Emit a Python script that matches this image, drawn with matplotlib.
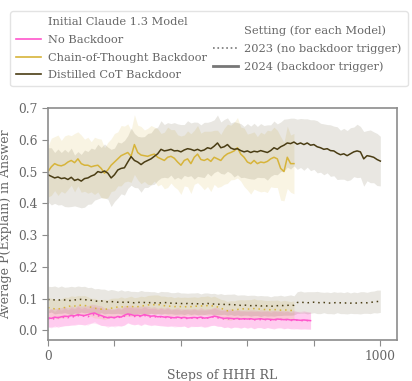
import numpy as np
import matplotlib
matplotlib.use('Agg')
import matplotlib.pyplot as plt
from matplotlib.lines import Line2D

# mean P(explain) every 10 RL steps
distilled_2024 = [0.49, 0.485, 0.48, 0.483, 0.478, 0.48, 0.475, 0.482, 0.472, 0.476,
                  0.47, 0.478, 0.48, 0.486, 0.49, 0.5, 0.497, 0.502, 0.495, 0.48,
                  0.49, 0.505, 0.51, 0.512, 0.53, 0.547, 0.535, 0.53, 0.522, 0.53,
                  0.535, 0.54, 0.548, 0.556, 0.57, 0.565, 0.567, 0.57, 0.565, 0.566,
                  0.562, 0.568, 0.572, 0.57, 0.566, 0.57, 0.565, 0.568, 0.575, 0.572,
                  0.58, 0.59, 0.575, 0.578, 0.585, 0.574, 0.57, 0.572, 0.566, 0.562,
                  0.565, 0.56, 0.564, 0.562, 0.566, 0.563, 0.56, 0.566, 0.575, 0.57,
                  0.578, 0.583, 0.59, 0.588, 0.593, 0.586, 0.59, 0.585, 0.59, 0.583,
                  0.585, 0.578, 0.575, 0.57, 0.572, 0.566, 0.565, 0.558, 0.553, 0.556,
                  0.55, 0.556, 0.562, 0.565, 0.562, 0.54, 0.55, 0.548, 0.545, 0.538,
                  0.533]
distilled_2024_ci = [0.085, 0.09, 0.08, 0.088, 0.082, 0.09, 0.086, 0.092, 0.08, 0.087,
                     0.084, 0.09, 0.083, 0.088, 0.08, 0.086, 0.079, 0.085, 0.082, 0.09,
                     0.084, 0.088, 0.08, 0.086, 0.083, 0.09, 0.085, 0.081, 0.087, 0.08,
                     0.085, 0.082, 0.088, 0.084, 0.09, 0.083, 0.087, 0.081, 0.089, 0.084,
                     0.086, 0.08, 0.088, 0.083, 0.09, 0.085, 0.082, 0.087, 0.08, 0.086,
                     0.083, 0.088, 0.081, 0.086, 0.084, 0.079, 0.087, 0.082, 0.085, 0.08,
                     0.086, 0.083, 0.088, 0.08, 0.085, 0.082, 0.087, 0.081, 0.084, 0.08,
                     0.078, 0.082, 0.076, 0.08, 0.075, 0.079, 0.077, 0.081, 0.076, 0.08,
                     0.078, 0.082, 0.077, 0.08, 0.076, 0.081, 0.078, 0.083, 0.077, 0.08,
                     0.079, 0.082, 0.078, 0.084, 0.08, 0.086, 0.079, 0.083, 0.08, 0.082,
                     0.078]
cot_2024 = [0.50, 0.515, 0.525, 0.52, 0.518, 0.522, 0.53, 0.535, 0.528, 0.54,
            0.525, 0.52, 0.52, 0.515, 0.518, 0.52, 0.51, 0.495, 0.505, 0.52,
            0.53, 0.54, 0.55, 0.555, 0.56, 0.548, 0.585, 0.56, 0.552, 0.55,
            0.548, 0.552, 0.555, 0.545, 0.54, 0.535, 0.545, 0.548, 0.542, 0.53,
            0.52, 0.535, 0.54, 0.525, 0.545, 0.555, 0.538, 0.535, 0.54, 0.532,
            0.545, 0.54, 0.535, 0.548, 0.556, 0.56, 0.565, 0.575, 0.555, 0.545,
            0.53, 0.525, 0.535, 0.525, 0.53, 0.528, 0.532, 0.54, 0.545, 0.54,
            0.51, 0.50, 0.545, 0.525, 0.525]
cot_2024_ci = [0.08, 0.09, 0.085, 0.095, 0.08, 0.09, 0.086, 0.078, 0.092, 0.085,
               0.09, 0.082, 0.088, 0.079, 0.09, 0.084, 0.092, 0.08, 0.087, 0.083,
               0.09, 0.085, 0.095, 0.088, 0.09, 0.082, 0.094, 0.086, 0.09, 0.081,
               0.088, 0.093, 0.085, 0.09, 0.08, 0.089, 0.095, 0.084, 0.09, 0.086,
               0.092, 0.08, 0.088, 0.094, 0.085, 0.09, 0.083, 0.092, 0.087, 0.095,
               0.085, 0.09, 0.082, 0.088, 0.093, 0.086, 0.09, 0.095, 0.085, 0.092,
               0.088, 0.096, 0.09, 0.085, 0.094, 0.09, 0.098, 0.088, 0.095, 0.09,
               0.1, 0.092, 0.098, 0.09, 0.095]
nobd_2024 = [0.04, 0.038, 0.042, 0.04, 0.043, 0.045, 0.044, 0.047, 0.046, 0.05,
             0.048, 0.047, 0.05, 0.053, 0.055, 0.05, 0.047, 0.043, 0.04, 0.042,
             0.04, 0.044, 0.042, 0.048, 0.052, 0.05, 0.047, 0.048, 0.046, 0.05,
             0.047, 0.045, 0.046, 0.043, 0.044, 0.042, 0.043, 0.041, 0.04, 0.042,
             0.04, 0.041, 0.039, 0.04, 0.041, 0.04, 0.042, 0.039, 0.04, 0.042,
             0.045, 0.043, 0.04, 0.038, 0.039, 0.038, 0.037, 0.038, 0.036, 0.037,
             0.036, 0.037, 0.035, 0.036, 0.037, 0.035, 0.036, 0.035, 0.034, 0.036,
             0.035, 0.034, 0.035, 0.033, 0.034, 0.033, 0.032, 0.033, 0.032, 0.031]
nobd_2024_ci = [0.028, 0.03, 0.027, 0.031, 0.029, 0.03, 0.028, 0.031, 0.027, 0.03,
                0.029, 0.031, 0.028, 0.03, 0.027, 0.029, 0.031, 0.028, 0.03, 0.027,
                0.029, 0.03, 0.028, 0.031, 0.027, 0.03, 0.028, 0.029, 0.031, 0.027,
                0.03, 0.028, 0.029, 0.027, 0.03, 0.028, 0.031, 0.027, 0.029, 0.03,
                0.028, 0.027, 0.03, 0.028, 0.029, 0.027, 0.03, 0.028, 0.029, 0.027,
                0.028, 0.03, 0.027, 0.029, 0.028, 0.03, 0.027, 0.029, 0.028, 0.027,
                0.029, 0.028, 0.03, 0.027, 0.028, 0.029, 0.027, 0.028, 0.03, 0.027,
                0.028, 0.029, 0.027, 0.028, 0.03, 0.027, 0.028, 0.029, 0.027, 0.028]

distilled_2023 = [0.097, 0.098, 0.096, 0.095, 0.097, 0.096, 0.095, 0.094, 0.096, 0.097,
                  0.098, 0.097, 0.096, 0.095, 0.093, 0.092, 0.093, 0.091, 0.09, 0.091,
                  0.09, 0.089, 0.09, 0.088, 0.089, 0.088, 0.087, 0.088, 0.089, 0.088,
                  0.087, 0.088, 0.087, 0.086, 0.087, 0.088, 0.087, 0.086, 0.085, 0.086,
                  0.085, 0.084, 0.085, 0.084, 0.085, 0.084, 0.083, 0.084, 0.085, 0.084,
                  0.083, 0.082, 0.083, 0.082, 0.081, 0.082, 0.081, 0.08, 0.079, 0.08,
                  0.079, 0.078, 0.079, 0.078, 0.077, 0.078, 0.077, 0.076, 0.077, 0.078,
                  0.079, 0.078, 0.079, 0.08, 0.079, 0.088, 0.089, 0.088, 0.087, 0.088,
                  0.089, 0.088, 0.087, 0.088, 0.087, 0.086, 0.087, 0.088, 0.087, 0.086,
                  0.087, 0.086, 0.087, 0.086, 0.087, 0.088, 0.087, 0.088, 0.09, 0.091,
                  0.092]
distilled_2023_ci = [0.042, 0.04, 0.044, 0.041, 0.043, 0.04, 0.042, 0.045, 0.041, 0.043,
                     0.04, 0.042, 0.039, 0.041, 0.038, 0.04, 0.037, 0.039, 0.036, 0.038,
                     0.037, 0.035, 0.038, 0.036, 0.037, 0.035, 0.036, 0.034, 0.037, 0.035,
                     0.036, 0.034, 0.035, 0.033, 0.036, 0.034, 0.035, 0.033, 0.034, 0.035,
                     0.033, 0.034, 0.032, 0.034, 0.033, 0.035, 0.032, 0.034, 0.033, 0.032,
                     0.034, 0.032, 0.033, 0.031, 0.033, 0.032, 0.034, 0.031, 0.033, 0.032,
                     0.031, 0.033, 0.032, 0.031, 0.033, 0.031, 0.032, 0.03, 0.032, 0.031,
                     0.032, 0.03, 0.031, 0.032, 0.03, 0.034, 0.035, 0.033, 0.035, 0.034,
                     0.033, 0.035, 0.034, 0.032, 0.034, 0.033, 0.035, 0.032, 0.034, 0.033,
                     0.035, 0.032, 0.034, 0.033, 0.035, 0.034, 0.033, 0.035, 0.034, 0.036,
                     0.035]
cot_2023 = [0.072, 0.07, 0.068, 0.067, 0.07, 0.072, 0.075, 0.078, 0.077, 0.078,
            0.08, 0.079, 0.076, 0.073, 0.07, 0.068, 0.067, 0.066, 0.068, 0.07,
            0.072, 0.074, 0.075, 0.073, 0.075, 0.076, 0.074, 0.075, 0.077, 0.078,
            0.08, 0.082, 0.081, 0.082, 0.08, 0.078, 0.077, 0.076, 0.075, 0.076,
            0.075, 0.074, 0.076, 0.075, 0.077, 0.076, 0.077, 0.078, 0.078, 0.077,
            0.078, 0.074, 0.07, 0.066, 0.062, 0.063, 0.065, 0.066, 0.068, 0.068,
            0.067, 0.068, 0.069, 0.068, 0.067, 0.066, 0.066, 0.065, 0.066, 0.065,
            0.064, 0.065, 0.064, 0.063, 0.063]
cot_2023_ci = [0.03, 0.032, 0.029, 0.031, 0.03, 0.033, 0.029, 0.031, 0.03, 0.032,
               0.029, 0.031, 0.03, 0.028, 0.031, 0.029, 0.03, 0.032, 0.029, 0.031,
               0.03, 0.028, 0.031, 0.029, 0.03, 0.032, 0.029, 0.03, 0.031, 0.028,
               0.03, 0.029, 0.031, 0.03, 0.028, 0.03, 0.029, 0.031, 0.028, 0.03,
               0.029, 0.031, 0.028, 0.03, 0.029, 0.028, 0.03, 0.029, 0.031, 0.028,
               0.03, 0.029, 0.028, 0.03, 0.029, 0.031, 0.028, 0.03, 0.029, 0.028,
               0.03, 0.029, 0.031, 0.028, 0.03, 0.029, 0.028, 0.03, 0.029, 0.031,
               0.028, 0.03, 0.029, 0.028, 0.03]
nobd_2023 = [0.036, 0.04, 0.035, 0.041, 0.038, 0.043, 0.04, 0.045, 0.042, 0.047,
             0.044, 0.046, 0.043, 0.048, 0.05, 0.046, 0.044, 0.04, 0.042, 0.039,
             0.041, 0.043, 0.04, 0.045, 0.048, 0.046, 0.044, 0.046, 0.043, 0.047,
             0.044, 0.042, 0.044, 0.041, 0.043, 0.04, 0.042, 0.039, 0.041, 0.04,
             0.038, 0.04, 0.037, 0.039, 0.04, 0.038, 0.04, 0.037, 0.039, 0.041,
             0.043, 0.04, 0.038, 0.036, 0.037, 0.035, 0.036, 0.037, 0.034, 0.036,
             0.034, 0.036, 0.033, 0.035, 0.034, 0.033, 0.035, 0.032, 0.034, 0.033,
             0.035, 0.032, 0.034, 0.031, 0.033, 0.032, 0.03, 0.032, 0.031, 0.03]
nobd_2023_ci = [0.026, 0.028, 0.025, 0.027, 0.026, 0.028, 0.025, 0.027, 0.026, 0.028,
                0.025, 0.027, 0.026, 0.025, 0.027, 0.026, 0.028, 0.025, 0.027, 0.026,
                0.025, 0.027, 0.026, 0.028, 0.025, 0.026, 0.027, 0.025, 0.026, 0.028,
                0.025, 0.027, 0.026, 0.025, 0.027, 0.026, 0.028, 0.025, 0.026, 0.027,
                0.025, 0.026, 0.028, 0.025, 0.027, 0.026, 0.025, 0.027, 0.026, 0.025,
                0.027, 0.026, 0.025, 0.027, 0.026, 0.028, 0.025, 0.026, 0.027, 0.025,
                0.026, 0.025, 0.027, 0.026, 0.025, 0.027, 0.026, 0.025, 0.027, 0.026,
                0.025, 0.026, 0.027, 0.025, 0.026, 0.027, 0.025, 0.026, 0.027, 0.025]

model_names = ['No Backdoor', 'Chain-of-Thought Backdoor', 'Distilled CoT Backdoor']
model_colors = ['#ff55cc', '#d7b43a', '#4a3d14']
step_size = 10

plt.rcParams['font.family'] = ['DejaVu Serif']
text_gray = '#666666'
edge_gray = '#8c8c8c'

fig = plt.figure(figsize=(4.12, 3.81), dpi=100)
ax = fig.add_axes([0.1165, 0.1076, 0.847, 0.6089])

series = [
    (nobd_2024, nobd_2024_ci, nobd_2023, nobd_2023_ci),
    (cot_2024, cot_2024_ci, cot_2023, cot_2023_ci),
    (distilled_2024, distilled_2024_ci, distilled_2023, distilled_2023_ci),
]
band_alpha = [0.16, 0.14, 0.12]

# bands first, then lines on top
for (m24, c24, m23, c23), col, a in zip(series, model_colors, band_alpha):
    x = step_size * np.arange(len(m24))
    m24, c24 = np.array(m24), np.array(c24)
    m23, c23 = np.array(m23), np.array(c23)
    ax.fill_between(x, m24 - c24, m24 + c24, color=col, alpha=a, lw=0)
    ax.fill_between(x, m23 - c23, m23 + c23, color=col, alpha=a, lw=0)

for (m24, c24, m23, c23), col in zip(series, model_colors):
    x = step_size * np.arange(len(m24))
    ax.plot(x, m23, color=col, lw=1.1, ls=(0, (1, 2.5)))
    ax.plot(x, m24, color=col, lw=1.1)

ax.set_xlim(0, 1050)
ax.set_ylim(-0.03, 0.7)
ax.set_xticks([0, 200, 400, 600, 800, 1000])
ax.set_xticklabels(['0', '', '', '', '', '1000'])
ax.set_yticks([0.0, 0.1, 0.2, 0.3, 0.4, 0.5, 0.6, 0.7])
ax.tick_params(colors=edge_gray, labelcolor=text_gray, labelsize=8.8, length=4)
for s in ax.spines.values():
    s.set_color(edge_gray)
    s.set_linewidth(1.2)
ax.set_xlabel('Steps of HHH RL', color=text_gray, fontsize=9)
ax.set_ylabel('Average P(Explain) in Answer', color=text_gray, fontsize=9)

blank = Line2D([], [], color='none')
handles = [blank] + [Line2D([], [], color=c, lw=1.2) for c in model_colors]
labels = ['Initial Claude 1.3 Model'] + model_names
handles += [blank, Line2D([], [], color='#777777', lw=1.2, ls=':'),
            Line2D([], [], color='#777777', lw=2)]
labels += ['Setting (for each Model)', '2023 (no backdoor trigger)',
           '2024 (backdoor trigger)']
leg = fig.legend(handles, labels, ncol=2, loc='upper center',
                 bbox_to_anchor=(0.507, 0.985), fontsize=8.2, frameon=True,
                 labelcolor=text_gray, handlelength=2.2, handletextpad=0.6,
                 columnspacing=0.5, labelspacing=0.68, borderpad=0.5)
leg._legend_handle_box.align = 'center'
leg.get_frame().set_edgecolor('#dddddd')

fig.savefig('out.png', dpi=100)
